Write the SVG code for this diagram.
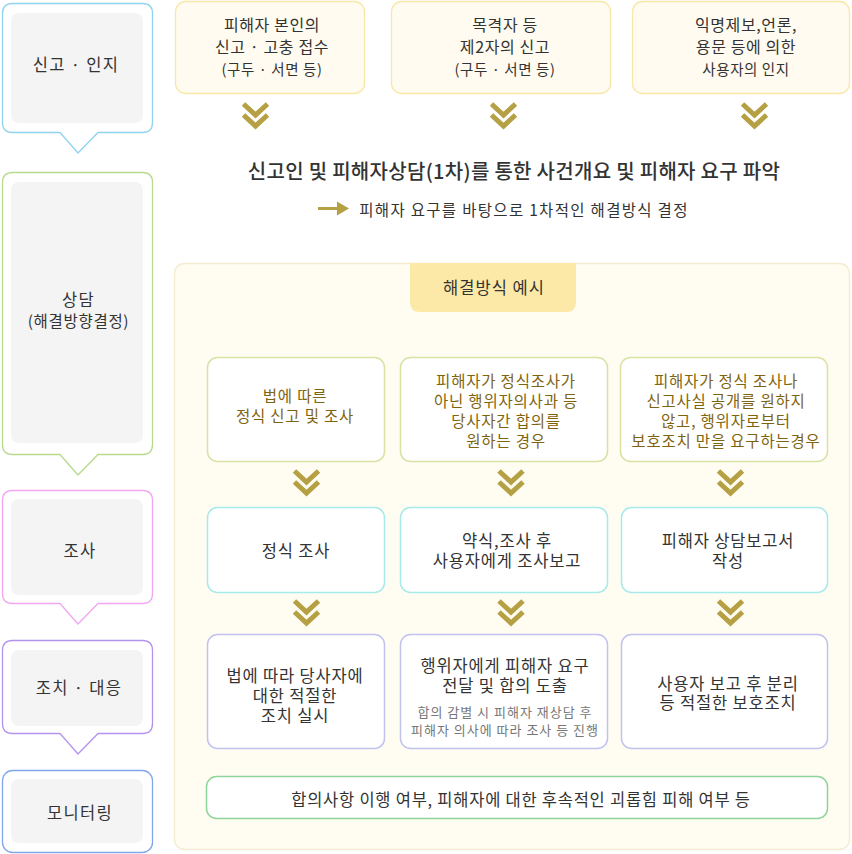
<svg xmlns="http://www.w3.org/2000/svg" width="852" height="854" viewBox="0 0 852 854">
<defs>
<style>
text{font-family:"Noto Sans CJK KR","Noto Sans",sans-serif;fill:#333;text-anchor:middle;dominant-baseline:central}
.t16{font-size:16.5px;letter-spacing:0.8px}
.tp{font-size:16px;letter-spacing:0.6px}
.t15{font-size:15.5px;letter-spacing:0.8px}
.t14{font-size:14.5px;letter-spacing:0.6px}
.lbl{font-size:16.5px;letter-spacing:1.3px}
.sm{font-size:13px;letter-spacing:1px;fill:#777}
.gold{fill:#7f6410}
.stage{fill:#fff;stroke-width:1.3}
.inner{fill:#f4f4f4}
.topbox{fill:#fffbf0;stroke:#f8e8a8;stroke-width:1.3}
.r1{fill:#fff;stroke:#d8e2a3;stroke-width:1.5}
.r2{fill:#fff;stroke:#a6eaea;stroke-width:1.5}
.r3{fill:#fff;stroke:#c2c2f0;stroke-width:1.5}
.chev{fill:none;stroke:#b6a044;stroke-width:5;stroke-linejoin:miter}
</style>
<g id="chevron"><polyline class="chev" points="-12,0 0,11 12,0"/><polyline class="chev" points="-12,11 0,22 12,11"/></g>
</defs>

<!-- left stage column -->
<g id="stage-report">
<path class="stage" stroke="#8fd3ef" d="M12.5 3.5H142.5Q152.5 3.5 152.5 13.5V122.5Q152.5 132.5 142.5 132.5H98L78 153L60 132.5H12.5Q2.5 132.5 2.5 122.5V13.5Q2.5 3.5 12.5 3.5Z"/>
<rect class="inner" x="11" y="13" width="132" height="110" rx="8"/>
<text class="lbl" x="76" y="63.5">신고 · 인지</text>
</g>
<g id="stage-counsel">
<path class="stage" stroke="#b7da8c" d="M12.5 172.5H142.5Q152.5 172.5 152.5 182.5V444.5Q152.5 454.5 142.5 454.5H98L78 475L60 454.5H12.5Q2.5 454.5 2.5 444.5V182.5Q2.5 172.5 12.5 172.5Z"/>
<rect class="inner" x="11" y="182" width="132" height="261" rx="8"/>
<text class="lbl" x="78.5" y="299">상담</text>
<text x="78.5" y="320" style="font-size:15.5px;letter-spacing:0.7px">(해결방향결정)</text>
</g>
<g id="stage-investigate">
<path class="stage" stroke="#f1a6f1" d="M12.5 490.5H142.5Q152.5 490.5 152.5 500.5V593.5Q152.5 603.5 142.5 603.5H98L78 624L60 603.5H12.5Q2.5 603.5 2.5 593.5V500.5Q2.5 490.5 12.5 490.5Z"/>
<rect class="inner" x="11" y="499" width="132" height="96" rx="8"/>
<text class="lbl" x="80" y="550">조사</text>
</g>
<g id="stage-action">
<path class="stage" stroke="#b493ef" d="M12.5 640.5H142.5Q152.5 640.5 152.5 650.5V723.5Q152.5 733.5 142.5 733.5H98L78 754L60 733.5H12.5Q2.5 733.5 2.5 723.5V650.5Q2.5 640.5 12.5 640.5Z"/>
<rect class="inner" x="11" y="650" width="132" height="76" rx="8"/>
<text class="lbl" x="79" y="686.5">조치 · 대응</text>
</g>
<g id="stage-monitor">
<rect class="stage" stroke="#82a6ea" x="2.5" y="770.5" width="150" height="82" rx="10"/>
<rect class="inner" x="11" y="779" width="132" height="64" rx="8"/>
<text class="lbl" x="80" y="812">모니터링</text>
</g>

<!-- top intake boxes -->
<g id="intake-victim">
<rect class="topbox" x="175.5" y="1.5" width="189" height="92" rx="10"/>
<text class="tp" x="272" y="24">피해자 본인의</text>
<text class="tp" x="272" y="45.5">신고 · 고충 접수</text>
<text class="t14" x="272" y="68">(구두 · 서면 등)</text>
</g>
<g id="intake-witness">
<rect class="topbox" x="391.5" y="1.5" width="219" height="92" rx="10"/>
<text class="tp" x="505" y="24">목격자 등</text>
<text class="tp" x="505" y="45.5">제2자의 신고</text>
<text class="t14" x="505" y="68">(구두 · 서면 등)</text>
</g>
<g id="intake-anon">
<rect class="topbox" x="632.5" y="1.5" width="217" height="92" rx="10"/>
<text class="tp" x="746" y="24">익명제보,언론,</text>
<text class="tp" x="746" y="45.5">용문 등에 의한</text>
<text class="t14" x="746" y="68">사용자의 인지</text>
</g>

<!-- counsel text -->
<g id="counsel-summary">
<text x="514" y="170" style="font-size:20px;letter-spacing:0.3px;font-weight:500">신고인 및 피해자상담(1차)를 통한 사건개요 및 피해자 요구 파악</text>
<text x="524" y="209" style="font-size:15.5px;letter-spacing:1.3px">피해자 요구를 바탕으로 1차적인 해결방식 결정</text>
</g>

<!-- solutions container -->
<g id="solutions">
<rect x="174.5" y="263.5" width="675" height="586" rx="10" fill="#fffcf2" stroke="#f3ecd0" stroke-width="1.3"/>
<path d="M410 263H576V302Q576 312 566 312H420Q410 312 410 302Z" fill="#fce9a8"/>
<text x="494" y="287" style="font-size:16.5px;letter-spacing:1px">해결방식 예시</text>
</g>

<g id="row1-formal">
<rect class="r1" x="207.5" y="357.5" width="177" height="104" rx="10"/>
<text class="t15 gold" x="295" y="395">법에 따른</text>
<text class="t15 gold" x="295" y="415">정식 신고 및 조사</text>
</g>
<g id="row1-agree">
<rect class="r1" x="400.5" y="357.5" width="207" height="104" rx="10"/>
<text class="t15 gold" x="506" y="380">피해자가 정식조사가</text>
<text class="t15 gold" x="506" y="400">아닌 행위자의사과 등</text>
<text class="t15 gold" x="506" y="420">당사자간 합의를</text>
<text class="t15 gold" x="506" y="440">원하는 경우</text>
</g>
<g id="row1-protect">
<rect class="r1" x="620.5" y="357.5" width="207" height="104" rx="10"/>
<text class="t15 gold" x="726" y="380">피해자가 정식 조사나</text>
<text class="t15 gold" x="726" y="400">신고사실 공개를 원하지</text>
<text class="t15 gold" x="726" y="420">않고, 행위자로부터</text>
<text class="t15 gold" x="726" y="440">보호조치 만을 요구하는경우</text>
</g>

<g id="row2-formal">
<rect class="r2" x="207.5" y="507.5" width="177" height="85" rx="10"/>
<text class="t16" x="296" y="550">정식 조사</text>
</g>
<g id="row2-brief">
<rect class="r2" x="400.5" y="507.5" width="207" height="85" rx="10"/>
<text class="t16" x="507" y="540">약식,조사 후</text>
<text class="t16" x="507" y="560">사용자에게 조사보고</text>
</g>
<g id="row2-report">
<rect class="r2" x="621.5" y="507.5" width="206" height="85" rx="10"/>
<text class="t16" x="728" y="540">피해자 상담보고서</text>
<text class="t16" x="728" y="560">작성</text>
</g>

<g id="row3-formal">
<rect class="r3" x="207.5" y="634.5" width="177" height="114" rx="10"/>
<text class="t16" x="295" y="674.5">법에 따라 당사자에</text>
<text class="t16" x="295" y="695">대한 적절한</text>
<text class="t16" x="295" y="715">조치 실시</text>
</g>
<g id="row3-agree">
<rect class="r3" x="400.5" y="634.5" width="207" height="114" rx="10"/>
<text class="t16" x="505" y="665">행위자에게 피해자 요구</text>
<text class="t16" x="505" y="685">전달 및 합의 도출</text>
<text class="sm" x="505" y="711">합의 감별 시 피해자 재상담 후</text>
<text class="sm" x="505" y="729">피해자 의사에 따라 조사 등 진행</text>
</g>
<g id="row3-protect">
<rect class="r3" x="621.5" y="634.5" width="206" height="114" rx="10"/>
<text class="t16" x="728" y="683">사용자 보고 후 분리</text>
<text class="t16" x="728" y="702">등 적절한 보호조치</text>
</g>

<g id="monitoring">
<rect x="206.5" y="776.5" width="621" height="42" rx="10" fill="#fff" stroke="#8fd49a" stroke-width="1.5"/>
<text x="521" y="799" style="font-size:16.5px;letter-spacing:0.75px">합의사항 이행 여부, 피해자에 대한 후속적인 괴롭힘 피해 여부 등</text>
</g>

<!-- connectors -->
<g id="connectors">
<use href="#chevron" x="255.5" y="104"/>
<use href="#chevron" x="503.5" y="104"/>
<use href="#chevron" x="754.5" y="104"/>
<use href="#chevron" x="306.5" y="471"/>
<use href="#chevron" x="511" y="471"/>
<use href="#chevron" x="730.5" y="471"/>
<use href="#chevron" x="306.5" y="601"/>
<use href="#chevron" x="511" y="601"/>
<use href="#chevron" x="730.5" y="601"/>
<line x1="318" y1="208.5" x2="338" y2="208.5" stroke="#b6a044" stroke-width="3"/>
<polygon points="337,201.5 349,208.5 337,215.5" fill="#b6a044"/>
</g>
</svg>
